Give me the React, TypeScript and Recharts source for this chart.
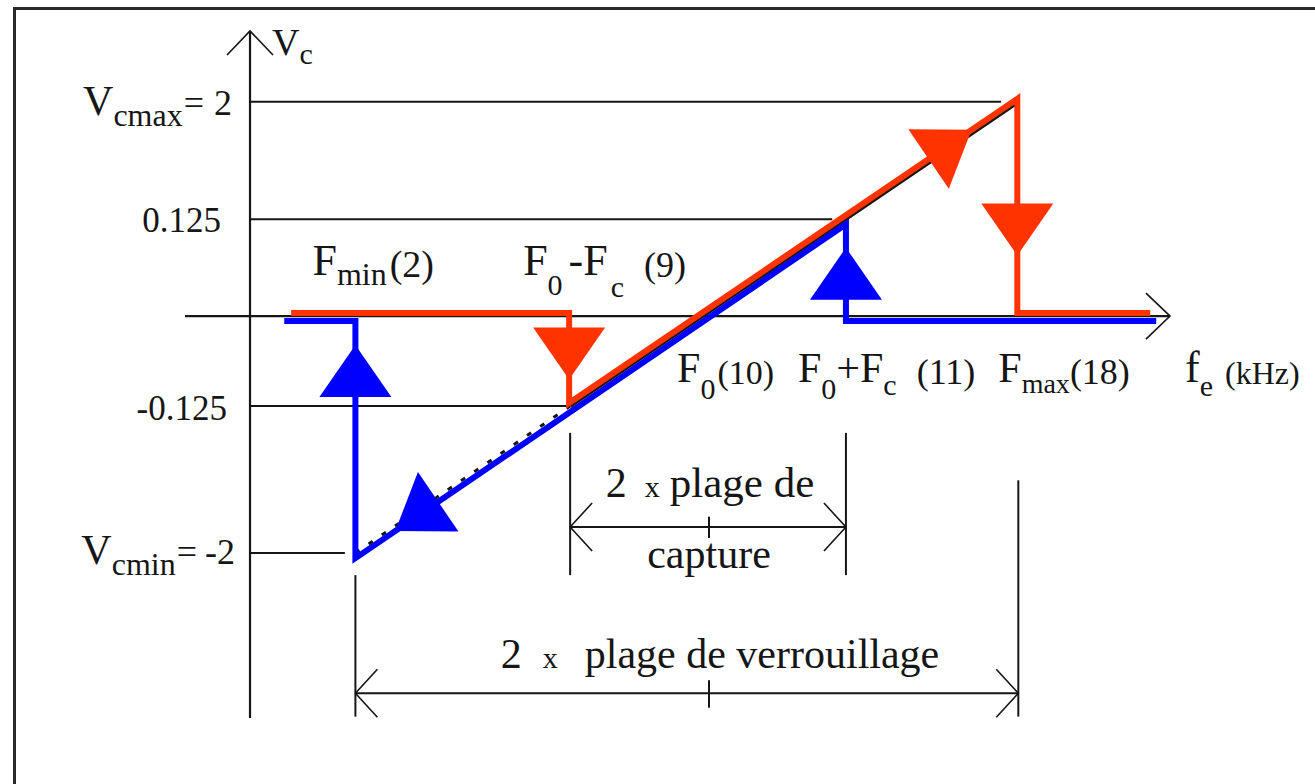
import React from "react";
import { ComposedChart, Line, Scatter, XAxis, YAxis, ReferenceLine } from "recharts";

const WIDTH = 1315;
const HEIGHT = 784;
const MARGIN = { top: 31, right: 145, bottom: 66, left: 185 };
// pixels per plot unit (both axes run 0..100)
const PX_X = (WIDTH - MARGIN.left - MARGIN.right) / 100;
const PX_Y = (HEIGHT - MARGIN.top - MARGIN.bottom) / 100;

const INK = "#161616";
const RED = "#ff3300";
const BLUE = "#0000ff";
const SERIF = "'Liberation Serif', 'Times New Roman', serif";

// key frequencies (kHz)
const F_MIN = 2;
const F0 = 10;
const FC = 1;
const F_MAX = 18;
const F_CAP_LO = F0 - FC;
const F_CAP_HI = F0 + FC;

// control voltage levels (V)
const VC_MAX = 2;
const VC_CAP = 0.125;
const VC_MIN = -2;

// horizontal guides from the Vc axis, and the frequency where each one stops
const guideVc = [VC_MAX, VC_CAP, -VC_CAP, VC_MIN];
const guideEndF = [17.3, 10.9, 8.9, 1.8];

// ideal Vc(fe) characteristic inside the lock range
const rampF = [F_MIN, F_CAP_LO, F_MAX];
const rampVc = [VC_MIN, -VC_CAP, VC_MAX];

// rising sweep (red): captured at F0 - Fc, lost at Fmax
const upF = [0.8, F_CAP_LO, F_CAP_LO, F_MAX, F_MAX, 23.4];
const upVc = [0, 0, -VC_CAP, VC_MAX, 0, 0];

// falling sweep (blue): captured at F0 + Fc, lost at Fmin
const downF = [23.6, F_CAP_HI, F_CAP_HI, F_MIN, F_MIN, 0.65];
const downVc = [0, 0, VC_CAP, VC_MIN, 0, 0];

// arrowheads: [segment index, position along the segment]
const upArrowAt = [[1, 0.45], [2, 0.85], [3, 0.61]];
const downArrowAt = [[1, 0.49], [2, 0.875], [3, 0.79]];

// the diagram is not to scale: each axis is piecewise linear between these stops
const X_STOPS = [[0, 6.6], [F_MIN, 17.3], [F_CAP_LO, 39.1], [F0, 53.2], [F_CAP_HI, 67.1], [F_MAX, 84.6]];
const Y_STOPS = [[VC_MIN, 24.0], [-VC_CAP, 45.4], [0, 58.5], [VC_CAP, 72.6], [VC_MAX, 89.7]];

// rows used by the dimension lines under the graph (plot units)
const ROW = { capTop: 41.5, capture: 27.8, capBottom: 20.8, lockTop: 34.6, lock: 3.6, floor: 0.2 };

function warp(stops: number[][], v: number) {
  let i = 0;
  while (i < stops.length - 2 && v > stops[i + 1][0]) i++;
  const [a0, b0] = stops[i];
  const [a1, b1] = stops[i + 1];
  return b0 + ((v - a0) / (a1 - a0)) * (b1 - b0);
}
const sx = (f: number) => warp(X_STOPS, f);
const sy = (vc: number) => warp(Y_STOPS, vc);

const toPoints = (fs: number[], vcs: number[]) => fs.map((f, i) => ({ x: sx(f), y: sy(vcs[i]) }));

// heading in screen terms (y up), so the triangle can be turned along its segment
function arrowHeads(pts: { x: number; y: number }[], at: number[][]) {
  return at.map(([seg, t]) => {
    const p = pts[seg];
    const q = pts[seg + 1];
    return {
      x: p.x + t * (q.x - p.x),
      y: p.y + t * (q.y - p.y),
      angle: Math.atan2((q.y - p.y) * PX_Y, (q.x - p.x) * PX_X),
    };
  });
}

const rampPts = toPoints(rampF, rampVc);
const upPts = toPoints(upF, upVc);
const downPts = toPoints(downF, downVc);
const upHeads = arrowHeads(upPts, upArrowAt);
const downHeads = arrowHeads(downPts, downArrowAt);

type Part = [string, number, number?, number?]; // text, font size, baseline shift, gap before

interface TextLabel {
  x: number;
  y: number;
  dx: number;
  dy: number;
  anchor: "start" | "middle" | "end";
  parts: Part[];
}

const labels: TextLabel[] = [
  { x: sx(0), y: 100, dx: 22, dy: 24, anchor: "start", parts: [["V", 38], ["c", 30, 9]] },
  {
    x: sx(0), y: sy(VC_MAX), dx: -18, dy: 13, anchor: "end",
    parts: [["V", 42], ["cmax", 32, 11], ["=", 36, 0, 1], [String(VC_MAX), 36, 0, 10]],
  },
  { x: sx(0), y: sy(VC_CAP), dx: -29, dy: 13, anchor: "end", parts: [[String(VC_CAP), 35]] },
  { x: sx(0), y: sy(-VC_CAP), dx: -23, dy: 14, anchor: "end", parts: [[String(-VC_CAP), 35]] },
  {
    x: sx(0), y: sy(VC_MIN), dx: -15, dy: 11, anchor: "end",
    parts: [["V", 42], ["cmin", 32, 11], ["=", 36, 0, 1], [String(VC_MIN), 36, 0, 8]],
  },
  {
    x: sx(F_MIN), y: sy(0), dx: -43, dy: -41, anchor: "start",
    parts: [["F", 44], ["min", 32, 10], [`(${F_MIN})`, 38, 2, 3]],
  },
  {
    x: sx(F_CAP_LO), y: sy(0), dx: -47, dy: -41, anchor: "start",
    parts: [["F", 44], ["0", 30, 20], ["-F", 44, 0, 6], ["c", 30, 22, 3], [`(${F_CAP_LO})`, 36, 2, 20]],
  },
  {
    x: sx(F0), y: sy(0), dx: -32, dy: 66, anchor: "start",
    parts: [["F", 42], ["0", 30, 17], [`(${F0})`, 34, 2, 2]],
  },
  {
    x: sx(F_CAP_HI), y: sy(0), dx: -48, dy: 66, anchor: "start",
    parts: [["F", 42], ["0", 30, 17], ["+F", 42, 0], ["c", 30, 13], [`(${F_CAP_HI})`, 36, 2, 20]],
  },
  {
    x: sx(F_MAX), y: sy(0), dx: -20, dy: 66, anchor: "start",
    parts: [["F", 42], ["max", 28, 11], [`(${F_MAX})`, 36, 2]],
  },
  { x: 100, y: sy(0), dx: 15, dy: 66, anchor: "start", parts: [["f", 44], ["e", 30, 14], ["(kHz)", 32, 2, 12]] },
  {
    x: sx(F0), y: ROW.capture, dx: 1, dy: -30, anchor: "middle",
    parts: [["2", 42], ["x", 30, 0, 18], ["plage de", 43, 0, 10]],
  },
  { x: sx(F0), y: ROW.capture, dx: 0, dy: 41, anchor: "middle", parts: [["capture", 42]] },
  {
    x: sx(F0), y: ROW.lock, dx: 11, dy: -25, anchor: "middle",
    parts: [["2", 42], ["x", 30, 0, 21], ["plage de verrouillage", 42, 0, 27]],
  },
];

function RichText({ x, y, anchor, parts }: { x: number; y: number; anchor: string; parts: Part[] }) {
  let prev = 0;
  return (
    <text x={x} y={y} textAnchor={anchor} fontFamily={SERIF} fill={INK}>
      {parts.map(([t, size, shift = 0, gap = 0], i) => {
        const dy = shift - prev;
        prev = shift;
        return (
          <tspan key={i} fontSize={size} dy={dy} dx={gap}>
            {t}
          </tspan>
        );
      })}
    </text>
  );
}

const renderLabel = (props: any) => {
  const { cx, cy, payload } = props;
  return <RichText x={cx + payload.dx} y={cy + payload.dy} anchor={payload.anchor} parts={payload.parts} />;
};

// filled triangle pointing along the sweep direction
const arrowShape = (fill: string, len = 52, wid = 72) => (props: any) => {
  const { cx, cy, payload } = props;
  const ux = Math.cos(payload.angle);
  const uy = -Math.sin(payload.angle);
  const nx = -uy;
  const ny = ux;
  const tip = [cx + (ux * len) / 2, cy + (uy * len) / 2];
  const b1 = [cx - (ux * len) / 2 + (nx * wid) / 2, cy - (uy * len) / 2 + (ny * wid) / 2];
  const b2 = [cx - (ux * len) / 2 - (nx * wid) / 2, cy - (uy * len) / 2 - (ny * wid) / 2];
  return <polygon points={`${tip.join(",")} ${b1.join(",")} ${b2.join(",")}`} fill={fill} />;
};

// axis line with an open arrow at its far end
const AxisArrow = (props: any) => {
  const { x1, y1, x2, y2 } = props;
  const l = Math.hypot(x2 - x1, y2 - y1) || 1;
  const ux = (x2 - x1) / l;
  const uy = (y2 - y1) / l;
  const back = 24;
  const side = 23;
  const bx = x2 - ux * back;
  const by = y2 - uy * back;
  return (
    <g>
      <line x1={x1} y1={y1} x2={x2} y2={y2} stroke={INK} strokeWidth={2.2} />
      <polyline
        points={`${bx - uy * side},${by + ux * side} ${x2},${y2} ${bx + uy * side},${by - ux * side}`}
        fill="none"
        stroke={INK}
        strokeWidth={1.6}
      />
    </g>
  );
};

// dimension line with open arrows at both ends
const DimLine = (props: any) => {
  const { x1, y1, x2, y2 } = props;
  const back = 22;
  const side = 24;
  return (
    <g fill="none" stroke={INK}>
      <line x1={x1} y1={y1} x2={x2} y2={y2} strokeWidth={2.2} />
      <polyline points={`${x1 + back},${y1 - side} ${x1},${y1} ${x1 + back},${y1 + side}`} strokeWidth={1.6} />
      <polyline points={`${x2 - back},${y2 - side} ${x2},${y2} ${x2 - back},${y2 + side}`} strokeWidth={1.6} />
    </g>
  );
};

const seg = (xa: number, ya: number, xb: number, yb: number) => [
  { x: xa, y: ya },
  { x: xb, y: yb },
];

const thin = { stroke: INK, strokeWidth: 2, ifOverflow: "visible" as const };

export default function App() {
  return (
    <div
      style={{
        position: "absolute",
        left: 0,
        top: 0,
        width: WIDTH,
        height: HEIGHT,
        background: "#fff",
        overflow: "hidden",
      }}
    >
      <style>{`
        .sweep-up { transform: translate(-1px, -3px); }
        .sweep-down { transform: translate(0px, 5px); }
      `}</style>
      {/* frame: only its top and left edges fall inside the page */}
      <div
        style={{
          position: "absolute",
          left: 13,
          top: 7,
          width: WIDTH + 40,
          height: HEIGHT + 40,
          borderTop: "3px solid #2a2a2a",
          borderLeft: "3px solid #2a2a2a",
          boxSizing: "border-box",
        }}
      />
      <ComposedChart width={WIDTH} height={HEIGHT} margin={MARGIN}>
        <XAxis type="number" dataKey="x" domain={[0, 100]} hide />
        <YAxis type="number" dataKey="y" domain={[0, 100]} hide />

        {guideVc.map((v, i) => (
          <ReferenceLine key={`g${i}`} segment={seg(sx(0), sy(v), sx(guideEndF[i]), sy(v))} {...thin} />
        ))}

        <ReferenceLine segment={seg(0, sy(0), 100, sy(0))} shape={AxisArrow} ifOverflow="visible" />
        <ReferenceLine segment={seg(sx(0), 0, sx(0), 100)} shape={AxisArrow} ifOverflow="visible" />

        {/* capture range */}
        <ReferenceLine segment={seg(sx(F_CAP_LO), ROW.capTop, sx(F_CAP_LO), ROW.capBottom)} {...thin} />
        <ReferenceLine segment={seg(sx(F_CAP_HI), ROW.capTop, sx(F_CAP_HI), ROW.capBottom)} {...thin} />
        <ReferenceLine segment={seg(sx(F_CAP_LO), ROW.capture, sx(F_CAP_HI), ROW.capture)} shape={DimLine} ifOverflow="visible" />
        <ReferenceLine segment={seg(sx(F0), ROW.capture + 1.5, sx(F0), ROW.capture - 1.6)} {...thin} />

        {/* lock range */}
        <ReferenceLine segment={seg(sx(F_MIN), ROW.capBottom, sx(F_MIN), ROW.floor)} {...thin} />
        <ReferenceLine segment={seg(sx(F_MAX), ROW.lockTop, sx(F_MAX), ROW.floor)} {...thin} />
        <ReferenceLine segment={seg(sx(F_MIN), ROW.lock, sx(F_MAX), ROW.lock)} shape={DimLine} ifOverflow="visible" />
        <ReferenceLine segment={seg(sx(F0), ROW.lock + 1.9, sx(F0), ROW.lock - 2.1)} {...thin} />

        <Line
          data={rampPts.slice(0, 2)}
          dataKey="y"
          stroke={INK}
          strokeWidth={3}
          strokeDasharray="5 11"
          dot={false}
          activeDot={false}
          isAnimationActive={false}
        />
        <Line
          data={rampPts.slice(1)}
          dataKey="y"
          stroke={INK}
          strokeWidth={4}
          dot={false}
          activeDot={false}
          isAnimationActive={false}
        />

        <Line
          className="sweep-down"
          data={downPts}
          dataKey="y"
          stroke={BLUE}
          strokeWidth={6}
          dot={false}
          activeDot={false}
          isAnimationActive={false}
        />
        <Scatter className="sweep-down" data={downHeads} dataKey="y" shape={arrowShape(BLUE)} isAnimationActive={false} />

        <Line
          className="sweep-up"
          data={upPts}
          dataKey="y"
          stroke={RED}
          strokeWidth={6}
          dot={false}
          activeDot={false}
          isAnimationActive={false}
        />
        <Scatter className="sweep-up" data={upHeads} dataKey="y" shape={arrowShape(RED)} isAnimationActive={false} />

        <Scatter data={labels} dataKey="y" shape={renderLabel} isAnimationActive={false} />
      </ComposedChart>
    </div>
  );
}
